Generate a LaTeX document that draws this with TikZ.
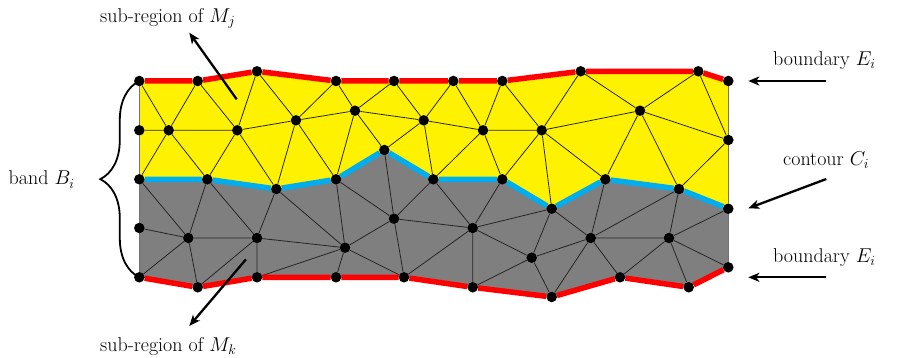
\documentclass[tikz,border=0pt]{standalone}
\usepackage{fix-cm}
\usepackage{xcolor}
\usetikzlibrary{arrows.meta,backgrounds,decorations.pathreplacing}
\definecolor{bandyellow}{HTML}{FFF200}
\definecolor{bandgray}{HTML}{7F7F7F}
\definecolor{contourblue}{HTML}{00AEEF}
\definecolor{edgered}{HTML}{FF0000}
\begin{document}
\begin{tikzpicture}[x=1pt,y=-1pt,>={Stealth[length=11pt,width=9pt,inset=3pt]},
 dot/.style={circle,fill=black,inner sep=0pt,minimum size=10.5pt},
 lab/.style={anchor=base west,inner sep=0pt,font=\fontsize{20}{24}\selectfont},
 mesh/.style={line width=0.8pt,black!85},
 side/.style={line width=0.8pt,black!55},
 thick edge/.style={line width=5.5pt,edgered},
 thick contour/.style={line width=5.5pt,contourblue},
 ptr/.style={->,line width=2.3pt}]
\useasboundingbox (0,0) rectangle (909,358);
% top boundary
\node[dot] (t1) at (139.3,81) {};
\node[dot] (t2) at (197.7,81) {};
\node[dot] (t3) at (257,71.3) {};
\node[dot] (t4) at (336,81) {};
\node[dot] (t5) at (394,81) {};
\node[dot] (t6) at (453.3,81) {};
\node[dot] (t7) at (502.3,81) {};
\node[dot] (t8) at (580.7,71.3) {};
\node[dot] (t9) at (698.3,71.3) {};
\node[dot] (t10) at (728.3,81) {};
% yellow interior
\node[dot] (l2) at (139.3,130.3) {};
\node[dot] (a1) at (168.7,130.3) {};
\node[dot] (a2) at (237.3,130.3) {};
\node[dot] (a3) at (296,120.3) {};
\node[dot] (a4) at (355,110.7) {};
\node[dot] (a5) at (423.7,120.3) {};
\node[dot] (a6) at (483,130.3) {};
\node[dot] (a7) at (541.7,130.3) {};
\node[dot] (a8) at (640,110.7) {};
\node[dot] (r2) at (728.3,140) {};
% contour
\node[dot] (c1) at (139.3,179.3) {};
\node[dot] (c2) at (207.3,179.3) {};
\node[dot] (c3) at (276.3,189) {};
\node[dot] (c4) at (336,179.3) {};
\node[dot] (c5) at (384.3,150) {};
\node[dot] (c6) at (433.3,179.3) {};
\node[dot] (c7) at (502.3,179.3) {};
\node[dot] (c8) at (551.7,208.7) {};
\node[dot] (c9) at (605.3,179.3) {};
\node[dot] (c10) at (679,189) {};
\node[dot] (c11) at (728.3,208.7) {};
% gray interior
\node[dot] (l4) at (139.3,228) {};
\node[dot] (g1) at (188.3,238) {};
\node[dot] (g2) at (257,238) {};
\node[dot] (g3) at (345,247.7) {};
\node[dot] (g4) at (394,218.7) {};
\node[dot] (g5) at (472.7,228) {};
\node[dot] (g6) at (531.7,257.7) {};
\node[dot] (g7) at (590.7,238) {};
\node[dot] (g8) at (669,238) {};
% bottom boundary
\node[dot] (b1) at (139.3,277.3) {};
\node[dot] (b2) at (197.7,287.3) {};
\node[dot] (b3) at (257,277.3) {};
\node[dot] (b4) at (336,277.3) {};
\node[dot] (b5) at (404,277.3) {};
\node[dot] (b6) at (472.7,287.3) {};
\node[dot] (b7) at (551.7,297) {};
\node[dot] (b8) at (620,277.3) {};
\node[dot] (b9) at (688.7,287.3) {};
\node[dot] (b10) at (728.3,267.3) {};
% labels
\node[lab] (mj) at (100,23) {sub-region of $M_j$};
\node[lab] (mk) at (100,351) {sub-region of $M_k$};
\node[lab] (band) at (8.5,185) {band $B_i$};
\node[lab] (et) at (773,66) {boundary $E_i$};
\node[lab] (ci) at (783,165) {contour $C_i$};
\node[lab] (eb) at (773,262.7) {boundary $E_i$};
% pointer ends
\coordinate (mjt) at (236.7,99.3);
\coordinate (mjh) at (189.3,32.7);
\coordinate (mkt) at (246,259.3);
\coordinate (mkh) at (189.3,326);
\coordinate (ett) at (826.3,81);
\coordinate (eth) at (748.3,81);
\coordinate (cit) at (826.3,179);
\coordinate (cih) at (748.3,208.3);
\coordinate (ebt) at (826.3,277.3);
\coordinate (ebh) at (748.3,277.3);
\begin{scope}[on background layer]
\fill[bandyellow] (t1.center)--(t2.center)--(t3.center)--(t4.center)--(t5.center)--(t6.center)--(t7.center)--(t8.center)--(t9.center)--(t10.center)--(c11.center)--(c10.center)--(c9.center)--(c8.center)--(c7.center)--(c6.center)--(c5.center)--(c4.center)--(c3.center)--(c2.center)--(c1.center)--cycle;
\fill[bandgray] (c1.center)--(c2.center)--(c3.center)--(c4.center)--(c5.center)--(c6.center)--(c7.center)--(c8.center)--(c9.center)--(c10.center)--(c11.center)--(b10.center)--(b9.center)--(b8.center)--(b7.center)--(b6.center)--(b5.center)--(b4.center)--(b3.center)--(b2.center)--(b1.center)--cycle;
\draw[side] (t1)--(l2);
\draw[side] (l2)--(c1);
\draw[side] (c1)--(l4);
\draw[side] (l4)--(b1);
\draw[side] (t10)--(r2);
\draw[side] (r2)--(c11);
\draw[side] (c11)--(b10);
% upper triangles
\draw[mesh] (t1)--(a1) (t2)--(a1) (t2)--(a2) (t3)--(a2) (t3)--(a3) (t4)--(a3) (t4)--(a4) (t5)--(a4) (t5)--(a5);
\draw[mesh] (l2)--(a1) (a1)--(a2) (a2)--(a3) (a3)--(a4) (a4)--(a5) (a5)--(a6) (a6)--(a7) (a7)--(a8) (a8)--(r2);
\draw[mesh] (a1)--(c1) (a1)--(c2) (a2)--(c2) (a2)--(c3) (a3)--(c3) (a3)--(c4) (a4)--(c4) (a4)--(c5) (a5)--(c5) (a5)--(c6);
\draw[mesh] (a5)--(t6) (t6)--(a6) (t7)--(a6) (t7)--(a7) (t8)--(a7) (t8)--(a8) (t9)--(a8) (t9)--(r2);
\draw[mesh] (a6)--(c6) (a6)--(c7) (a7)--(c7) (a7)--(c8) (a7)--(c9) (a8)--(c9) (a8)--(c10) (r2)--(c10);
% lower triangles
\draw[mesh] (c1)--(g1) (c2)--(g1) (c2)--(g2) (c3)--(g2) (c3)--(g3) (c4)--(g3) (c4)--(g4) (c5)--(g4) (c6)--(g4) (c6)--(g5) (c7)--(g5) (c8)--(g5) (c8)--(g6) (c8)--(g7) (c9)--(g7) (c10)--(g7) (c10)--(g8) (c11)--(g8);
\draw[mesh] (l4)--(g1) (g1)--(g2) (g2)--(g3) (g3)--(g4) (g4)--(g5) (g5)--(g6) (g6)--(g7) (g7)--(g8);
\draw[mesh] (g1)--(b1) (g1)--(b2) (g2)--(b2) (g2)--(b3) (g3)--(b3) (g3)--(b4) (g3)--(b5) (g4)--(b5) (g5)--(b5) (g5)--(b6) (g6)--(b6) (g6)--(b7) (g7)--(b7) (g7)--(b8) (g8)--(b8) (g8)--(b9) (g8)--(b10);
% thick borders
\draw[thick edge] (t1)--(t2)--(t3)--(t4)--(t5)--(t6)--(t7)--(t8)--(t9)--(t10);
\draw[thick edge] (b1)--(b2)--(b3)--(b4)--(b5)--(b6)--(b7)--(b8)--(b9)--(b10);
\draw[thick contour] (c1)--(c2)--(c3)--(c4)--(c5)--(c6)--(c7)--(c8)--(c9)--(c10)--(c11);
\end{scope}
\draw[line width=1.8pt,decorate,decoration={brace,amplitude=39pt}] (b1.center)--(t1.center);
\draw[ptr] (mjt)--(mjh);
\draw[ptr] (mkt)--(mkh);
\draw[ptr] (ett)--(eth);
\draw[ptr] (cit)--(cih);
\draw[ptr] (ebt)--(ebh);
\end{tikzpicture}
\end{document}
